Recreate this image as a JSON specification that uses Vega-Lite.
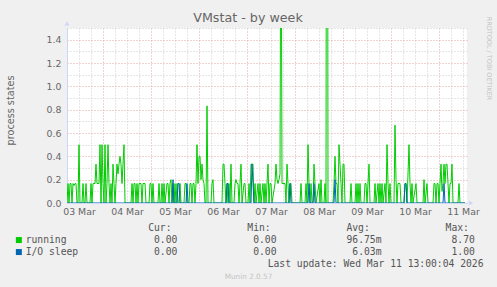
{
  "$schema": "https://vega.github.io/schema/vega-lite/v6.json",
  "width": 400,
  "height": 175,
  "autosize": {"type": "none"},
  "padding": {"left": 67, "top": 28, "right": 30, "bottom": 84},
  "background": "#F0F0F0",
  "view": {"fill": "#FFFFFF", "stroke": null},
  "title": {"text": "VMstat - by week", "font": "DejaVu Sans", "fontSize": 12.7, "fontWeight": "normal", "color": "#666666", "anchor": "middle", "dx": -19, "baseline": "alphabetic", "offset": -18.5},
  "data": {"values": [
    {"t":"2026-03-03T06:00Z","running":0,"iosleep":0},
    {"t":"2026-03-03T06:30Z","running":0.167,"iosleep":0},
    {"t":"2026-03-03T07:00Z","running":0,"iosleep":0},
    {"t":"2026-03-03T07:30Z","running":0.167,"iosleep":0},
    {"t":"2026-03-03T08:00Z","running":0.167,"iosleep":0},
    {"t":"2026-03-03T08:30Z","running":0,"iosleep":0},
    {"t":"2026-03-03T09:00Z","running":0.167,"iosleep":0},
    {"t":"2026-03-03T09:30Z","running":0.15,"iosleep":0},
    {"t":"2026-03-03T10:00Z","running":0.167,"iosleep":0},
    {"t":"2026-03-03T10:30Z","running":0.167,"iosleep":0},
    {"t":"2026-03-03T11:00Z","running":0,"iosleep":0},
    {"t":"2026-03-03T11:30Z","running":0,"iosleep":0},
    {"t":"2026-03-03T12:00Z","running":0.5,"iosleep":0},
    {"t":"2026-03-03T12:30Z","running":0,"iosleep":0},
    {"t":"2026-03-03T13:30Z","running":0,"iosleep":0},
    {"t":"2026-03-03T14:00Z","running":0.167,"iosleep":0},
    {"t":"2026-03-03T14:30Z","running":0,"iosleep":0},
    {"t":"2026-03-03T15:00Z","running":0,"iosleep":0},
    {"t":"2026-03-03T15:30Z","running":0.167,"iosleep":0},
    {"t":"2026-03-03T16:00Z","running":0,"iosleep":0},
    {"t":"2026-03-03T17:30Z","running":0,"iosleep":0},
    {"t":"2026-03-03T18:00Z","running":0.167,"iosleep":0},
    {"t":"2026-03-03T18:30Z","running":0,"iosleep":0},
    {"t":"2026-03-03T19:00Z","running":0.167,"iosleep":0},
    {"t":"2026-03-03T19:30Z","running":0.167,"iosleep":0},
    {"t":"2026-03-03T20:00Z","running":0.167,"iosleep":0},
    {"t":"2026-03-03T20:30Z","running":0.333,"iosleep":0},
    {"t":"2026-03-03T21:00Z","running":0.167,"iosleep":0},
    {"t":"2026-03-03T21:30Z","running":0.167,"iosleep":0},
    {"t":"2026-03-03T22:00Z","running":0.167,"iosleep":0},
    {"t":"2026-03-03T22:30Z","running":0.5,"iosleep":0},
    {"t":"2026-03-03T23:00Z","running":0,"iosleep":0},
    {"t":"2026-03-03T23:30Z","running":0.5,"iosleep":0},
    {"t":"2026-03-04T00:00Z","running":0.167,"iosleep":0},
    {"t":"2026-03-04T00:30Z","running":0,"iosleep":0},
    {"t":"2026-03-04T01:00Z","running":0.5,"iosleep":0},
    {"t":"2026-03-04T01:30Z","running":0,"iosleep":0},
    {"t":"2026-03-04T02:00Z","running":0.167,"iosleep":0},
    {"t":"2026-03-04T02:30Z","running":0.5,"iosleep":0},
    {"t":"2026-03-04T03:00Z","running":0.167,"iosleep":0},
    {"t":"2026-03-04T03:30Z","running":0,"iosleep":0},
    {"t":"2026-03-04T04:00Z","running":0.167,"iosleep":0},
    {"t":"2026-03-04T04:30Z","running":0,"iosleep":0},
    {"t":"2026-03-04T05:00Z","running":0.333,"iosleep":0},
    {"t":"2026-03-04T05:30Z","running":0.167,"iosleep":0},
    {"t":"2026-03-04T06:00Z","running":0,"iosleep":0},
    {"t":"2026-03-04T06:30Z","running":0.167,"iosleep":0},
    {"t":"2026-03-04T07:00Z","running":0.333,"iosleep":0},
    {"t":"2026-03-04T07:30Z","running":0.25,"iosleep":0},
    {"t":"2026-03-04T08:00Z","running":0.333,"iosleep":0},
    {"t":"2026-03-04T08:30Z","running":0.4,"iosleep":0},
    {"t":"2026-03-04T09:00Z","running":0.333,"iosleep":0},
    {"t":"2026-03-04T09:30Z","running":0.167,"iosleep":0},
    {"t":"2026-03-04T10:00Z","running":0.333,"iosleep":0},
    {"t":"2026-03-04T10:30Z","running":0.5,"iosleep":0},
    {"t":"2026-03-04T11:00Z","running":0,"iosleep":0},
    {"t":"2026-03-04T14:00Z","running":0,"iosleep":0},
    {"t":"2026-03-04T14:30Z","running":0.167,"iosleep":0},
    {"t":"2026-03-04T15:00Z","running":0,"iosleep":0},
    {"t":"2026-03-04T15:30Z","running":0.167,"iosleep":0},
    {"t":"2026-03-04T16:00Z","running":0.167,"iosleep":0},
    {"t":"2026-03-04T16:30Z","running":0,"iosleep":0},
    {"t":"2026-03-04T17:00Z","running":0.167,"iosleep":0},
    {"t":"2026-03-04T17:30Z","running":0,"iosleep":0},
    {"t":"2026-03-04T18:00Z","running":0.167,"iosleep":0},
    {"t":"2026-03-04T18:30Z","running":0.167,"iosleep":0},
    {"t":"2026-03-04T19:00Z","running":0.167,"iosleep":0},
    {"t":"2026-03-04T19:30Z","running":0,"iosleep":0},
    {"t":"2026-03-04T20:00Z","running":0.167,"iosleep":0},
    {"t":"2026-03-04T20:30Z","running":0.167,"iosleep":0},
    {"t":"2026-03-04T21:00Z","running":0.167,"iosleep":0},
    {"t":"2026-03-04T21:30Z","running":0,"iosleep":0},
    {"t":"2026-03-04T23:00Z","running":0,"iosleep":0},
    {"t":"2026-03-04T23:30Z","running":0.167,"iosleep":0},
    {"t":"2026-03-05T00:00Z","running":0.167,"iosleep":0},
    {"t":"2026-03-05T00:30Z","running":0,"iosleep":0},
    {"t":"2026-03-05T01:00Z","running":0.167,"iosleep":0},
    {"t":"2026-03-05T01:30Z","running":0,"iosleep":0},
    {"t":"2026-03-05T03:30Z","running":0,"iosleep":0},
    {"t":"2026-03-05T04:00Z","running":0.167,"iosleep":0},
    {"t":"2026-03-05T04:30Z","running":0,"iosleep":0},
    {"t":"2026-03-05T05:00Z","running":0,"iosleep":0},
    {"t":"2026-03-05T05:30Z","running":0.167,"iosleep":0},
    {"t":"2026-03-05T06:00Z","running":0,"iosleep":0},
    {"t":"2026-03-05T06:30Z","running":0.167,"iosleep":0},
    {"t":"2026-03-05T07:00Z","running":0,"iosleep":0},
    {"t":"2026-03-05T08:00Z","running":0.167,"iosleep":0},
    {"t":"2026-03-05T08:30Z","running":0.167,"iosleep":0},
    {"t":"2026-03-05T09:00Z","running":0,"iosleep":0},
    {"t":"2026-03-05T09:30Z","running":0.167,"iosleep":0},
    {"t":"2026-03-05T10:00Z","running":0.2,"iosleep":0},
    {"t":"2026-03-05T10:30Z","running":0,"iosleep":0},
    {"t":"2026-03-05T11:00Z","running":0.167,"iosleep":0.2},
    {"t":"2026-03-05T11:30Z","running":0,"iosleep":0},
    {"t":"2026-03-05T12:00Z","running":0.167,"iosleep":0},
    {"t":"2026-03-05T12:30Z","running":0,"iosleep":0},
    {"t":"2026-03-05T13:00Z","running":0.167,"iosleep":0},
    {"t":"2026-03-05T13:30Z","running":0,"iosleep":0.167},
    {"t":"2026-03-05T14:00Z","running":0,"iosleep":0.167},
    {"t":"2026-03-05T14:30Z","running":0.167,"iosleep":0},
    {"t":"2026-03-05T15:00Z","running":0,"iosleep":0},
    {"t":"2026-03-05T16:30Z","running":0,"iosleep":0},
    {"t":"2026-03-05T17:00Z","running":0.167,"iosleep":0},
    {"t":"2026-03-05T17:30Z","running":0.167,"iosleep":0},
    {"t":"2026-03-05T18:00Z","running":0,"iosleep":0.167},
    {"t":"2026-03-05T18:30Z","running":0,"iosleep":0},
    {"t":"2026-03-05T19:00Z","running":0,"iosleep":0},
    {"t":"2026-03-05T19:30Z","running":0.167,"iosleep":0},
    {"t":"2026-03-05T20:00Z","running":0.167,"iosleep":0},
    {"t":"2026-03-05T20:30Z","running":0,"iosleep":0},
    {"t":"2026-03-05T21:00Z","running":0.167,"iosleep":0},
    {"t":"2026-03-05T21:30Z","running":0.167,"iosleep":0},
    {"t":"2026-03-05T22:00Z","running":0,"iosleep":0},
    {"t":"2026-03-05T22:30Z","running":0.167,"iosleep":0},
    {"t":"2026-03-05T23:00Z","running":0.5,"iosleep":0},
    {"t":"2026-03-05T23:30Z","running":0.167,"iosleep":0},
    {"t":"2026-03-06T00:00Z","running":0.4,"iosleep":0},
    {"t":"2026-03-06T00:30Z","running":0.4,"iosleep":0},
    {"t":"2026-03-06T01:00Z","running":0.2,"iosleep":0},
    {"t":"2026-03-06T01:30Z","running":0.333,"iosleep":0},
    {"t":"2026-03-06T02:00Z","running":0.2,"iosleep":0},
    {"t":"2026-03-06T02:30Z","running":0.167,"iosleep":0},
    {"t":"2026-03-06T03:00Z","running":0,"iosleep":0},
    {"t":"2026-03-06T03:30Z","running":0,"iosleep":0},
    {"t":"2026-03-06T04:00Z","running":0.833,"iosleep":0},
    {"t":"2026-03-06T04:30Z","running":0,"iosleep":0},
    {"t":"2026-03-06T06:00Z","running":0,"iosleep":0},
    {"t":"2026-03-06T06:30Z","running":0.167,"iosleep":0},
    {"t":"2026-03-06T07:00Z","running":0.2,"iosleep":0},
    {"t":"2026-03-06T07:30Z","running":0,"iosleep":0},
    {"t":"2026-03-06T11:30Z","running":0,"iosleep":0},
    {"t":"2026-03-06T12:00Z","running":0.333,"iosleep":0},
    {"t":"2026-03-06T12:30Z","running":0.333,"iosleep":0},
    {"t":"2026-03-06T13:00Z","running":0.167,"iosleep":0},
    {"t":"2026-03-06T13:30Z","running":0,"iosleep":0},
    {"t":"2026-03-06T14:00Z","running":0.167,"iosleep":0.167},
    {"t":"2026-03-06T14:30Z","running":0,"iosleep":0.167},
    {"t":"2026-03-06T15:00Z","running":0.167,"iosleep":0},
    {"t":"2026-03-06T15:30Z","running":0,"iosleep":0},
    {"t":"2026-03-06T16:00Z","running":0.333,"iosleep":0},
    {"t":"2026-03-06T16:30Z","running":0,"iosleep":0},
    {"t":"2026-03-06T17:30Z","running":0,"iosleep":0},
    {"t":"2026-03-06T18:00Z","running":0.167,"iosleep":0},
    {"t":"2026-03-06T18:30Z","running":0.2,"iosleep":0},
    {"t":"2026-03-06T19:00Z","running":0.167,"iosleep":0},
    {"t":"2026-03-06T19:30Z","running":0.167,"iosleep":0},
    {"t":"2026-03-06T20:00Z","running":0,"iosleep":0},
    {"t":"2026-03-06T20:30Z","running":0.167,"iosleep":0},
    {"t":"2026-03-06T21:00Z","running":0.333,"iosleep":0},
    {"t":"2026-03-06T21:30Z","running":0,"iosleep":0},
    {"t":"2026-03-06T22:30Z","running":0.167,"iosleep":0},
    {"t":"2026-03-06T23:00Z","running":0.167,"iosleep":0},
    {"t":"2026-03-06T23:30Z","running":0,"iosleep":0},
    {"t":"2026-03-07T00:30Z","running":0,"iosleep":0},
    {"t":"2026-03-07T01:00Z","running":0.167,"iosleep":0},
    {"t":"2026-03-07T01:30Z","running":0,"iosleep":0},
    {"t":"2026-03-07T02:00Z","running":0.333,"iosleep":0},
    {"t":"2026-03-07T02:30Z","running":0.333,"iosleep":0.333},
    {"t":"2026-03-07T03:00Z","running":0.333,"iosleep":0.167},
    {"t":"2026-03-07T03:30Z","running":0,"iosleep":0},
    {"t":"2026-03-07T04:00Z","running":0.167,"iosleep":0},
    {"t":"2026-03-07T04:30Z","running":0,"iosleep":0},
    {"t":"2026-03-07T05:30Z","running":0.167,"iosleep":0},
    {"t":"2026-03-07T06:00Z","running":0,"iosleep":0},
    {"t":"2026-03-07T06:30Z","running":0.167,"iosleep":0},
    {"t":"2026-03-07T07:00Z","running":0,"iosleep":0},
    {"t":"2026-03-07T08:00Z","running":0.167,"iosleep":0},
    {"t":"2026-03-07T08:30Z","running":0,"iosleep":0},
    {"t":"2026-03-07T09:00Z","running":0.167,"iosleep":0},
    {"t":"2026-03-07T09:30Z","running":0,"iosleep":0},
    {"t":"2026-03-07T10:30Z","running":0.333,"iosleep":0},
    {"t":"2026-03-07T11:00Z","running":0,"iosleep":0},
    {"t":"2026-03-07T11:30Z","running":0.167,"iosleep":0},
    {"t":"2026-03-07T12:00Z","running":0.167,"iosleep":0},
    {"t":"2026-03-07T12:30Z","running":0,"iosleep":0},
    {"t":"2026-03-07T14:00Z","running":0.167,"iosleep":0},
    {"t":"2026-03-07T14:30Z","running":0.333,"iosleep":0},
    {"t":"2026-03-07T15:00Z","running":0.2,"iosleep":0},
    {"t":"2026-03-07T15:30Z","running":0.167,"iosleep":0},
    {"t":"2026-03-07T16:00Z","running":0.2,"iosleep":0},
    {"t":"2026-03-07T16:30Z","running":0.25,"iosleep":0},
    {"t":"2026-03-07T17:00Z","running":3.2,"iosleep":0},
    {"t":"2026-03-07T17:30Z","running":0.167,"iosleep":0},
    {"t":"2026-03-07T18:00Z","running":0.167,"iosleep":0},
    {"t":"2026-03-07T18:30Z","running":0.167,"iosleep":0},
    {"t":"2026-03-07T19:00Z","running":0.167,"iosleep":0},
    {"t":"2026-03-07T19:30Z","running":0,"iosleep":0},
    {"t":"2026-03-07T20:00Z","running":0.333,"iosleep":0},
    {"t":"2026-03-07T20:30Z","running":0.167,"iosleep":0},
    {"t":"2026-03-07T21:00Z","running":0,"iosleep":0},
    {"t":"2026-03-07T21:30Z","running":0.167,"iosleep":0.167},
    {"t":"2026-03-07T22:00Z","running":0.167,"iosleep":0},
    {"t":"2026-03-07T22:30Z","running":0,"iosleep":0},
    {"t":"2026-03-08T02:30Z","running":0,"iosleep":0},
    {"t":"2026-03-08T03:00Z","running":0.167,"iosleep":0},
    {"t":"2026-03-08T03:30Z","running":0,"iosleep":0},
    {"t":"2026-03-08T05:00Z","running":0,"iosleep":0},
    {"t":"2026-03-08T05:30Z","running":0.167,"iosleep":0},
    {"t":"2026-03-08T06:00Z","running":0,"iosleep":0},
    {"t":"2026-03-08T06:30Z","running":0.5,"iosleep":0},
    {"t":"2026-03-08T07:00Z","running":0.167,"iosleep":0.167},
    {"t":"2026-03-08T07:30Z","running":0,"iosleep":0},
    {"t":"2026-03-08T08:00Z","running":0.167,"iosleep":0},
    {"t":"2026-03-08T08:30Z","running":0,"iosleep":0},
    {"t":"2026-03-08T09:00Z","running":0,"iosleep":0},
    {"t":"2026-03-08T09:30Z","running":0.333,"iosleep":0.167},
    {"t":"2026-03-08T10:00Z","running":0.167,"iosleep":0},
    {"t":"2026-03-08T10:30Z","running":0,"iosleep":0},
    {"t":"2026-03-08T12:00Z","running":0.167,"iosleep":0},
    {"t":"2026-03-08T12:30Z","running":0,"iosleep":0},
    {"t":"2026-03-08T13:00Z","running":0.2,"iosleep":0},
    {"t":"2026-03-08T13:30Z","running":0,"iosleep":0},
    {"t":"2026-03-08T14:30Z","running":0,"iosleep":0},
    {"t":"2026-03-08T15:00Z","running":0.167,"iosleep":0},
    {"t":"2026-03-08T15:30Z","running":0,"iosleep":0},
    {"t":"2026-03-08T16:00Z","running":8.7,"iosleep":0},
    {"t":"2026-03-08T16:30Z","running":0,"iosleep":0},
    {"t":"2026-03-08T19:00Z","running":0,"iosleep":0},
    {"t":"2026-03-08T19:30Z","running":0.167,"iosleep":0},
    {"t":"2026-03-08T20:00Z","running":0.4,"iosleep":0.2},
    {"t":"2026-03-08T20:30Z","running":0.167,"iosleep":0},
    {"t":"2026-03-08T21:00Z","running":0.167,"iosleep":0},
    {"t":"2026-03-08T21:30Z","running":0,"iosleep":0},
    {"t":"2026-03-08T22:00Z","running":0.5,"iosleep":0},
    {"t":"2026-03-08T22:30Z","running":0.333,"iosleep":0},
    {"t":"2026-03-08T23:00Z","running":0.167,"iosleep":0},
    {"t":"2026-03-08T23:30Z","running":0,"iosleep":0},
    {"t":"2026-03-09T00:00Z","running":0.333,"iosleep":0},
    {"t":"2026-03-09T00:30Z","running":0.333,"iosleep":0},
    {"t":"2026-03-09T01:00Z","running":0,"iosleep":0},
    {"t":"2026-03-09T03:30Z","running":0,"iosleep":0},
    {"t":"2026-03-09T04:00Z","running":0.167,"iosleep":0},
    {"t":"2026-03-09T04:30Z","running":0,"iosleep":0},
    {"t":"2026-03-09T06:00Z","running":0,"iosleep":0},
    {"t":"2026-03-09T06:30Z","running":0.167,"iosleep":0},
    {"t":"2026-03-09T07:00Z","running":0,"iosleep":0},
    {"t":"2026-03-09T07:30Z","running":0.167,"iosleep":0},
    {"t":"2026-03-09T08:00Z","running":0,"iosleep":0},
    {"t":"2026-03-09T08:30Z","running":0.167,"iosleep":0},
    {"t":"2026-03-09T09:00Z","running":0,"iosleep":0},
    {"t":"2026-03-09T10:30Z","running":0,"iosleep":0},
    {"t":"2026-03-09T11:00Z","running":0.167,"iosleep":0},
    {"t":"2026-03-09T11:30Z","running":0.167,"iosleep":0},
    {"t":"2026-03-09T12:00Z","running":0,"iosleep":0},
    {"t":"2026-03-09T13:00Z","running":0.333,"iosleep":0},
    {"t":"2026-03-09T13:30Z","running":0,"iosleep":0},
    {"t":"2026-03-09T15:30Z","running":0,"iosleep":0},
    {"t":"2026-03-09T16:00Z","running":0.167,"iosleep":0},
    {"t":"2026-03-09T16:30Z","running":0,"iosleep":0},
    {"t":"2026-03-09T17:30Z","running":0.167,"iosleep":0},
    {"t":"2026-03-09T18:00Z","running":0,"iosleep":0},
    {"t":"2026-03-09T18:30Z","running":0.167,"iosleep":0},
    {"t":"2026-03-09T19:00Z","running":0,"iosleep":0},
    {"t":"2026-03-09T19:30Z","running":0.167,"iosleep":0},
    {"t":"2026-03-09T20:00Z","running":0,"iosleep":0},
    {"t":"2026-03-09T21:00Z","running":0.167,"iosleep":0},
    {"t":"2026-03-09T21:30Z","running":0,"iosleep":0},
    {"t":"2026-03-09T22:00Z","running":0.5,"iosleep":0},
    {"t":"2026-03-09T22:30Z","running":0.167,"iosleep":0},
    {"t":"2026-03-09T23:00Z","running":0,"iosleep":0},
    {"t":"2026-03-09T23:30Z","running":0.167,"iosleep":0},
    {"t":"2026-03-10T00:00Z","running":0,"iosleep":0},
    {"t":"2026-03-10T01:30Z","running":0,"iosleep":0},
    {"t":"2026-03-10T02:00Z","running":0.667,"iosleep":0},
    {"t":"2026-03-10T02:30Z","running":0.2,"iosleep":0},
    {"t":"2026-03-10T03:00Z","running":0,"iosleep":0},
    {"t":"2026-03-10T03:30Z","running":0.167,"iosleep":0},
    {"t":"2026-03-10T04:00Z","running":0.167,"iosleep":0},
    {"t":"2026-03-10T04:30Z","running":0.167,"iosleep":0},
    {"t":"2026-03-10T05:00Z","running":0,"iosleep":0},
    {"t":"2026-03-10T06:30Z","running":0,"iosleep":0},
    {"t":"2026-03-10T07:00Z","running":0.167,"iosleep":0.167},
    {"t":"2026-03-10T07:30Z","running":0.167,"iosleep":0.167},
    {"t":"2026-03-10T08:00Z","running":0,"iosleep":0},
    {"t":"2026-03-10T09:00Z","running":0.5,"iosleep":0},
    {"t":"2026-03-10T09:30Z","running":0.167,"iosleep":0},
    {"t":"2026-03-10T10:00Z","running":0,"iosleep":0},
    {"t":"2026-03-10T10:30Z","running":0.167,"iosleep":0},
    {"t":"2026-03-10T11:00Z","running":0,"iosleep":0},
    {"t":"2026-03-10T12:30Z","running":0.167,"iosleep":0},
    {"t":"2026-03-10T13:00Z","running":0,"iosleep":0},
    {"t":"2026-03-10T16:00Z","running":0,"iosleep":0},
    {"t":"2026-03-10T16:30Z","running":0.2,"iosleep":0},
    {"t":"2026-03-10T17:00Z","running":0,"iosleep":0},
    {"t":"2026-03-10T18:00Z","running":0.167,"iosleep":0},
    {"t":"2026-03-10T18:30Z","running":0,"iosleep":0},
    {"t":"2026-03-10T21:00Z","running":0,"iosleep":0},
    {"t":"2026-03-10T21:30Z","running":0.167,"iosleep":0},
    {"t":"2026-03-10T22:00Z","running":0.167,"iosleep":0},
    {"t":"2026-03-10T22:30Z","running":0,"iosleep":0},
    {"t":"2026-03-10T23:00Z","running":0.167,"iosleep":0},
    {"t":"2026-03-10T23:30Z","running":0.167,"iosleep":0},
    {"t":"2026-03-11T00:00Z","running":0,"iosleep":0},
    {"t":"2026-03-11T00:30Z","running":0.167,"iosleep":0},
    {"t":"2026-03-11T01:00Z","running":0.333,"iosleep":0},
    {"t":"2026-03-11T01:30Z","running":0.1,"iosleep":0},
    {"t":"2026-03-11T02:00Z","running":0.167,"iosleep":0},
    {"t":"2026-03-11T02:30Z","running":0.333,"iosleep":0.167},
    {"t":"2026-03-11T03:00Z","running":0.167,"iosleep":0},
    {"t":"2026-03-11T03:30Z","running":0.333,"iosleep":0},
    {"t":"2026-03-11T04:00Z","running":0.333,"iosleep":0},
    {"t":"2026-03-11T04:30Z","running":0.167,"iosleep":0},
    {"t":"2026-03-11T05:00Z","running":0,"iosleep":0},
    {"t":"2026-03-11T05:30Z","running":0.167,"iosleep":0},
    {"t":"2026-03-11T06:00Z","running":0.167,"iosleep":0},
    {"t":"2026-03-11T06:30Z","running":0.333,"iosleep":0},
    {"t":"2026-03-11T07:00Z","running":0,"iosleep":0},
    {"t":"2026-03-11T09:30Z","running":0,"iosleep":0},
    {"t":"2026-03-11T10:00Z","running":0.167,"iosleep":0},
    {"t":"2026-03-11T10:30Z","running":0,"iosleep":0},
    {"t":"2026-03-11T13:00Z","running":0,"iosleep":0}
  ]},
  "layer": [
    {
      "mark": {"type": "line", "clip": true, "strokeWidth": 1},
      "encoding": {
        "x": {"field": "t", "type": "temporal",
          "scale": {"type": "utc", "domain": [1772517600000, 1773237600000], "nice": false},
          "axis": {"orient": "bottom",
            "values": [1772517600000, 1772539200000, 1772560800000, 1772604000000, 1772625600000, 1772647200000, 1772690400000, 1772712000000, 1772733600000, 1772776800000, 1772798400000, 1772820000000, 1772863200000, 1772884800000, 1772906400000, 1772949600000, 1772971200000, 1772992800000, 1773036000000, 1773057600000, 1773079200000, 1773122400000, 1773144000000, 1773165600000, 1773208800000, 1773230400000],
            "grid": true, "gridColor": "#CCCCCC", "gridDash": [1, 2], "gridWidth": 1,
            "labels": true, "labelExpr": "utchours(datum.value) == 12 ? utcFormat(datum.value, '%d %b') : ''",
            "labelFont": "DejaVu Sans", "labelFontSize": 9.4, "labelColor": "#666666", "labelPadding": 4, "labelFlush": false, "labelOverlap": false,
            "ticks": false, "domain": true, "domainColor": "#CFD6F8", "domainWidth": 1,
            "title": "Munin 2.0.57", "titleFont": "DejaVu Sans", "titleFontSize": 7.3, "titleFontWeight": "normal", "titleColor": "#C4C4C4", "titleX": 181, "titleY": 73, "titleAlign": "center", "titleBaseline": "middle"}},
        "y": {"field": "running", "type": "quantitative",
          "scale": {"domain": [0, 1.5], "nice": false, "zero": false},
          "axis": {"orient": "right", "values": [0.1, 0.3, 0.5, 0.7, 0.9, 1.1, 1.3, 1.5],
            "grid": true, "gridColor": "#CCCCCC", "gridDash": [1, 2], "gridWidth": 1,
            "labels": false, "ticks": false, "domain": false,
            "title": "RRDTOOL / TOBI OETIKER", "titleFont": "DejaVu Sans", "titleFontSize": 6.5, "titleFontWeight": "normal", "titleColor": "#C4C4C4", "titleAngle": 90, "titleX": 21, "titleY": 30, "titleAlign": "center", "titleBaseline": "middle"}},
        "color": {"datum": "running", "type": "nominal",
          "scale": {"domain": ["running"], "range": ["#00CC00"]},
          "legend": {
            "orient": "none", "legendX": -53, "legendY": 194.5, "direction": "vertical", "padding": 0,
            "title": "\u200b\u00a0\u00a0\u00a0\u00a0\u00a0\u00a0\u00a0\u00a0\u00a0\u00a0\u00a0\u00a0\u00a0\u00a0\u00a0\u00a0\u00a0\u00a0\u00a0\u00a0\u00a0\u00a0\u00a0Cur:\u00a0\u00a0\u00a0\u00a0\u00a0\u00a0\u00a0\u00a0\u00a0\u00a0\u00a0\u00a0\u00a0Min:\u00a0\u00a0\u00a0\u00a0\u00a0\u00a0\u00a0\u00a0\u00a0\u00a0\u00a0\u00a0\u00a0Avg:\u00a0\u00a0\u00a0\u00a0\u00a0\u00a0\u00a0\u00a0\u00a0\u00a0\u00a0\u00a0\u00a0Max:",
            "titleFont": "DejaVu Sans Mono", "titleFontSize": 9.7, "titleFontWeight": "normal", "titleColor": "#555555", "titlePadding": 3, "titleLimit": 1000, "titleAnchor": "start", "titleAlign": "left",
            "symbolType": "square", "symbolSize": 1, "symbolStrokeWidth": 5, "symbolOpacity": 1,
            "labelFont": "DejaVu Sans Mono", "labelFontSize": 9.7, "labelColor": "#555555", "labelLimit": 1000, "labelOffset": 2,
            "labelExpr": "'running\u00a0\u00a0\u00a0\u00a0\u00a0\u00a0\u00a0\u00a0\u00a0\u00a0\u00a0\u00a0\u00a0\u00a0\u00a00.00\u00a0\u00a0\u00a0\u00a0\u00a0\u00a0\u00a0\u00a0\u00a0\u00a0\u00a0\u00a0\u00a00.00\u00a0\u00a0\u00a0\u00a0\u00a0\u00a0\u00a0\u00a0\u00a0\u00a0\u00a0\u00a096.75m\u00a0\u00a0\u00a0\u00a0\u00a0\u00a0\u00a0\u00a0\u00a0\u00a0\u00a0\u00a08.70'"
          }}
      }
    },
    {
      "mark": {"type": "line", "clip": true, "strokeWidth": 1},
      "encoding": {
        "x": {"field": "t", "type": "temporal",
          "scale": {"type": "utc", "domain": [1772517600000, 1773237600000], "nice": false},
          "axis": {"orient": "bottom",
            "values": [1772582400000, 1772668800000, 1772755200000, 1772841600000, 1772928000000, 1773014400000, 1773100800000, 1773187200000],
            "grid": true, "gridColor": "#E2A4A4", "gridDash": [1, 2], "gridWidth": 1,
            "labels": false, "ticks": false, "domain": false,
            "title": "Last update: Wed Mar 11 13:00:04 2026", "titleFont": "DejaVu Sans Mono", "titleFontSize": 9.7, "titleFontWeight": "normal", "titleColor": "#555555", "titleX": 416, "titleY": 60, "titleAlign": "right", "titleBaseline": "middle"}},
        "y": {"field": "iosleep", "type": "quantitative",
          "scale": {"domain": [0, 1.5], "nice": false, "zero": false},
          "axis": {"orient": "left", "values": [0, 0.2, 0.4, 0.6, 0.8, 1, 1.2, 1.4], "format": ".1f",
            "grid": true, "gridColor": "#E2A4A4", "gridDash": [1, 2], "gridWidth": 1,
            "labels": true, "labelFont": "DejaVu Sans", "labelFontSize": 9.4, "labelColor": "#666666", "labelPadding": 6, "ticks": false,
            "domain": true, "domainColor": "#CFD6F8", "domainWidth": 1,
            "title": "process states", "titleFont": "DejaVu Sans", "titleFontSize": 9.7, "titleFontWeight": "normal", "titleColor": "#666666", "titleAngle": 270, "titleX": -54, "titleY": 82, "titleAlign": "center", "titleBaseline": "alphabetic"}},
        "stroke": {"datum": "I/O sleep", "type": "nominal",
          "scale": {"domain": ["I/O sleep"], "range": ["#0066B3"]},
          "legend": {
            "orient": "none", "legendX": -53, "legendY": 219.2, "direction": "vertical", "padding": 0, "title": null,
            "symbolType": "square", "symbolSize": 1, "symbolStrokeWidth": 5, "symbolOpacity": 1,
            "labelFont": "DejaVu Sans Mono", "labelFontSize": 9.7, "labelColor": "#555555", "labelLimit": 1000, "labelOffset": 2,
            "labelExpr": "'I/O sleep\u00a0\u00a0\u00a0\u00a0\u00a0\u00a0\u00a0\u00a0\u00a0\u00a0\u00a0\u00a0\u00a00.00\u00a0\u00a0\u00a0\u00a0\u00a0\u00a0\u00a0\u00a0\u00a0\u00a0\u00a0\u00a0\u00a00.00\u00a0\u00a0\u00a0\u00a0\u00a0\u00a0\u00a0\u00a0\u00a0\u00a0\u00a0\u00a0\u00a06.03m\u00a0\u00a0\u00a0\u00a0\u00a0\u00a0\u00a0\u00a0\u00a0\u00a0\u00a0\u00a01.00'"
          }}
      }
    },
    {
      "data": {"values": [{}]},
      "mark": {"type": "point", "shape": "triangle-up", "filled": true, "size": 25, "color": "#CFD6F8", "opacity": 1},
      "encoding": {
        "x": {"datum": 1772517600000, "type": "temporal",
          "scale": {"type": "utc", "domain": [1772517600000, 1773237600000], "nice": false}, "axis": null},
        "y": {"datum": 1.54, "type": "quantitative",
          "scale": {"domain": [0, 1.5], "nice": false, "zero": false}, "axis": null}
      }
    },
    {
      "data": {"values": [{}]},
      "mark": {"type": "point", "shape": "triangle-right", "filled": true, "size": 25, "color": "#CFD6F8", "opacity": 1},
      "encoding": {
        "x": {"datum": 1773244800000, "type": "temporal",
          "scale": {"type": "utc", "domain": [1772517600000, 1773237600000], "nice": false}, "axis": null},
        "y": {"datum": 0, "type": "quantitative",
          "scale": {"domain": [0, 1.5], "nice": false, "zero": false}, "axis": null}
      }
    }
  ],
  "resolve": {"axis": {"x": "independent", "y": "independent"}}
}
